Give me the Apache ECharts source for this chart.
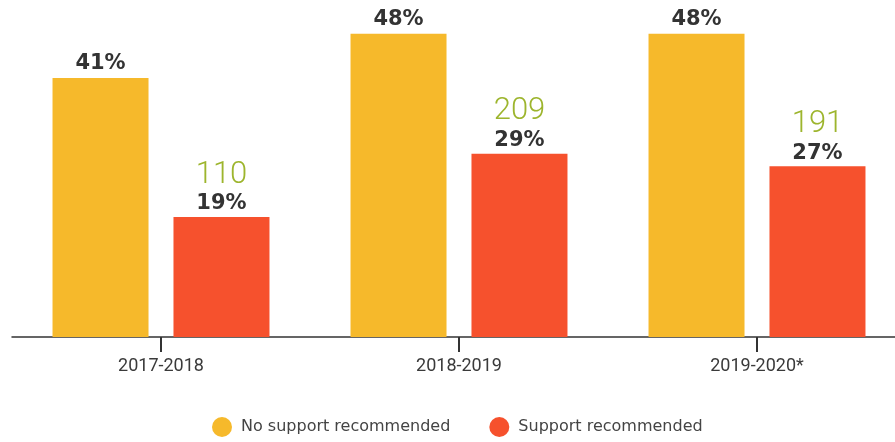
<!DOCTYPE html>
<html>
<head>
<meta charset="utf-8">
<script src="https://cdn.jsdelivr.net/npm/echarts@6/dist/echarts.min.js"></script>
<style>
  html, body { margin: 0; padding: 0; background: #fff; overflow: hidden; }
  #chart { width: 906px; height: 442px; }
</style>
</head>
<body>
<div id="chart"></div>
<script>
var years = ['2017-2018', '2018-2019', '2019-2020*'];
var noSupport = [41, 48, 48];
var support = [19, 29, 27];
var supportCounts = [110, 209, 191];

// the axis runs past the right edge of the picture, so the chart is a bit wider than the window
var chart = echarts.init(document.getElementById('chart'));

var option = {
    animation: false,
    grid: {
        left: 12,
        right: 0,
        top: 21,
        bottom: 105
    },
    legend: {
        left: 207,
        top: 412,
        icon: 'circle',
        itemWidth: 20,
        itemHeight: 20,
        itemGap: 39,
        textStyle: {
            fontFamily: 'DejaVu Sans',
            fontSize: 16,
            color: '#444',
            padding: [0, 0, 0, 4]
        },
        data: ['No support recommended', 'Support recommended']
    },
    xAxis: {
        type: 'category',
        data: years,
        axisLine: { lineStyle: { color: '#333', width: 1.5 } },
        axisTick: {
            show: true,
            interval: 0,
            alignWithLabel: true,
            length: 15,
            lineStyle: { color: '#333', width: 2 }
        },
        axisLabel: {
            margin: 20,
            fontFamily: 'Roboto',
            fontSize: 18,
            color: '#3a3a3a'
        }
    },
    yAxis: {
        type: 'value',
        min: 0,
        max: 50,
        show: false,
        splitLine: { show: false }
    },
    series: [
        {
            name: 'No support recommended',
            type: 'bar',
            data: noSupport,
            barWidth: 96,
            barGap: '26%',
            itemStyle: { color: '#F6B92B' },
            label: {
                show: true,
                position: 'top',
                distance: 4,
                fontFamily: 'DejaVu Sans',
                fontWeight: 'bold',
                fontSize: 21,
                color: '#333',
                formatter: '{c}%'
            }
        },
        {
            name: 'Support recommended',
            type: 'bar',
            data: support,
            barWidth: 96,
            itemStyle: { color: '#F6512D' },
            label: {
                show: true,
                position: 'top',
                distance: 2,
                formatter: function (p) {
                    return '{n|' + supportCounts[p.dataIndex] + '}\n{p|' + p.value + '%}';
                },
                rich: {
                    n: {
                        fontFamily: 'Roboto',
                        fontWeight: 300,
                        fontSize: 31,
                        color: '#9DB52D',
                        lineHeight: 36
                    },
                    p: {
                        fontFamily: 'DejaVu Sans',
                        fontWeight: 'bold',
                        fontSize: 21,
                        color: '#333',
                        lineHeight: 22
                    }
                }
            }
        }
    ]
};

chart.setOption(option);
</script>
</body>
</html>
